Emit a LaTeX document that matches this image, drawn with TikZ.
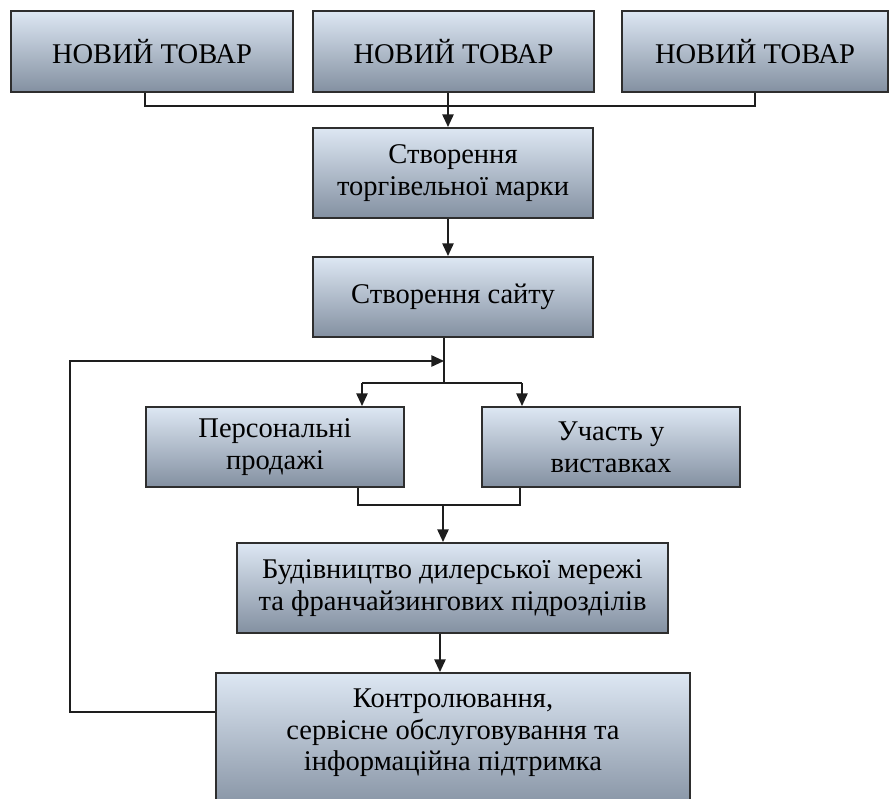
\documentclass[tikz,border=0pt]{standalone}
\usepackage{fontspec}
\setmainfont{Liberation Serif}
\usetikzlibrary{arrows.meta,calc}
\definecolor{boxtop}{HTML}{DDE7F3}
\definecolor{boxbot}{HTML}{8390A1}
\definecolor{boxline}{HTML}{2E2E2E}
\definecolor{lineclr}{HTML}{1E1E1E}
\begin{document}
\begin{tikzpicture}[x=0.75pt,y=-0.75pt,
  box/.style={draw=boxline, line width=1.5pt, top color=boxtop, bottom color=boxbot,
    inner sep=0pt, align=center, font=\fontsize{21.4}{24}\selectfont},
  txt/.style={inner sep=0pt, align=center, font=\fontsize{21.4}{23.5}\selectfont},
  conn/.style={draw=lineclr, line width=1.2pt},
  arr/.style={conn, -{Triangle[length=9.5pt,width=8.5pt]}}]
\useasboundingbox (0,0) rectangle (892,799);
\clip (0,0) rectangle (892,799);
\fill[white] (0,0) rectangle (892,799);

% boxes
\node[box, minimum width=211.5pt, minimum height=60.75pt] (b1) at (152,51.5) {НОВИЙ ТОВАР};
\node[box, minimum width=210.75pt, minimum height=60.75pt] (b2) at (453.5,51.5) {НОВИЙ ТОВАР};
\node[box, minimum width=199.5pt, minimum height=60.75pt] (b3) at (755,51.5) {НОВИЙ ТОВАР};
\node[box, minimum width=210pt, minimum height=67.5pt] (b4) at (453,173) {Створення\\торгівельної марки};
\node[box, minimum width=210pt, minimum height=60pt] (b5) at (453,297) {Створення сайту};
\node[box, minimum width=193.5pt, minimum height=60pt] (b6) at (275,447) {Персональні\\продажі};
\node[box, minimum width=193.5pt, minimum height=60pt] (b7) at (611,447) {Участь у\\виставках};
\node[box, minimum width=323.25pt, minimum height=67.5pt] (b8) at (452.5,588) {Будівництво дилерської мережі\\та франчайзингових підрозділів};
\node[box, minimum width=355.5pt, minimum height=105pt] (b9) at (453,743) {};
\node[txt] (b9t) at (453,733) {Контролювання,\\сервісне обслуговування та\\інформаційна підтримка};

% connectors
\coordinate (j1) at (145,106);
\coordinate (j2) at (448,106);
\coordinate (j3) at (755,106);
\draw[conn] (b1.south -| j1) -- (j1) -- (j3) -- (b3.south -| j3);
\draw[conn] (b2.south -| j2) -- (j2);
\draw[arr] (j2) -- (b4.north -| j2);
\draw[arr] (b4.south -| j2) -- (b5.north -| j2);

\coordinate (s1) at (444,361);
\coordinate (s2) at (444,383);
\coordinate (s3) at (362,383);
\coordinate (s4) at (522,383);
\draw[conn] (b5.south -| s1) -- (s2);
\draw[conn] (s3) -- (s4);
\draw[arr] (s3) -- (b6.north -| s3);
\draw[arr] (s4) -- (b7.north -| s4);

\coordinate (m1) at (358,505);
\coordinate (m2) at (520,505);
\coordinate (m3) at (443,505);
\draw[conn] (b6.south -| m1) -- (m1) -- (m2) -- (b7.south -| m2);
\draw[arr] (m3) -- (b8.north -| m3);

\coordinate (k1) at (440,650);
\draw[arr] (b8.south -| k1) -- (b9.north -| k1);

\coordinate (f1) at (70,712);
\coordinate (f2) at (70,361);
\draw[arr] (b9.west |- f1) -- (f1) -- (f2) -- (s1);
\end{tikzpicture}
\end{document}
